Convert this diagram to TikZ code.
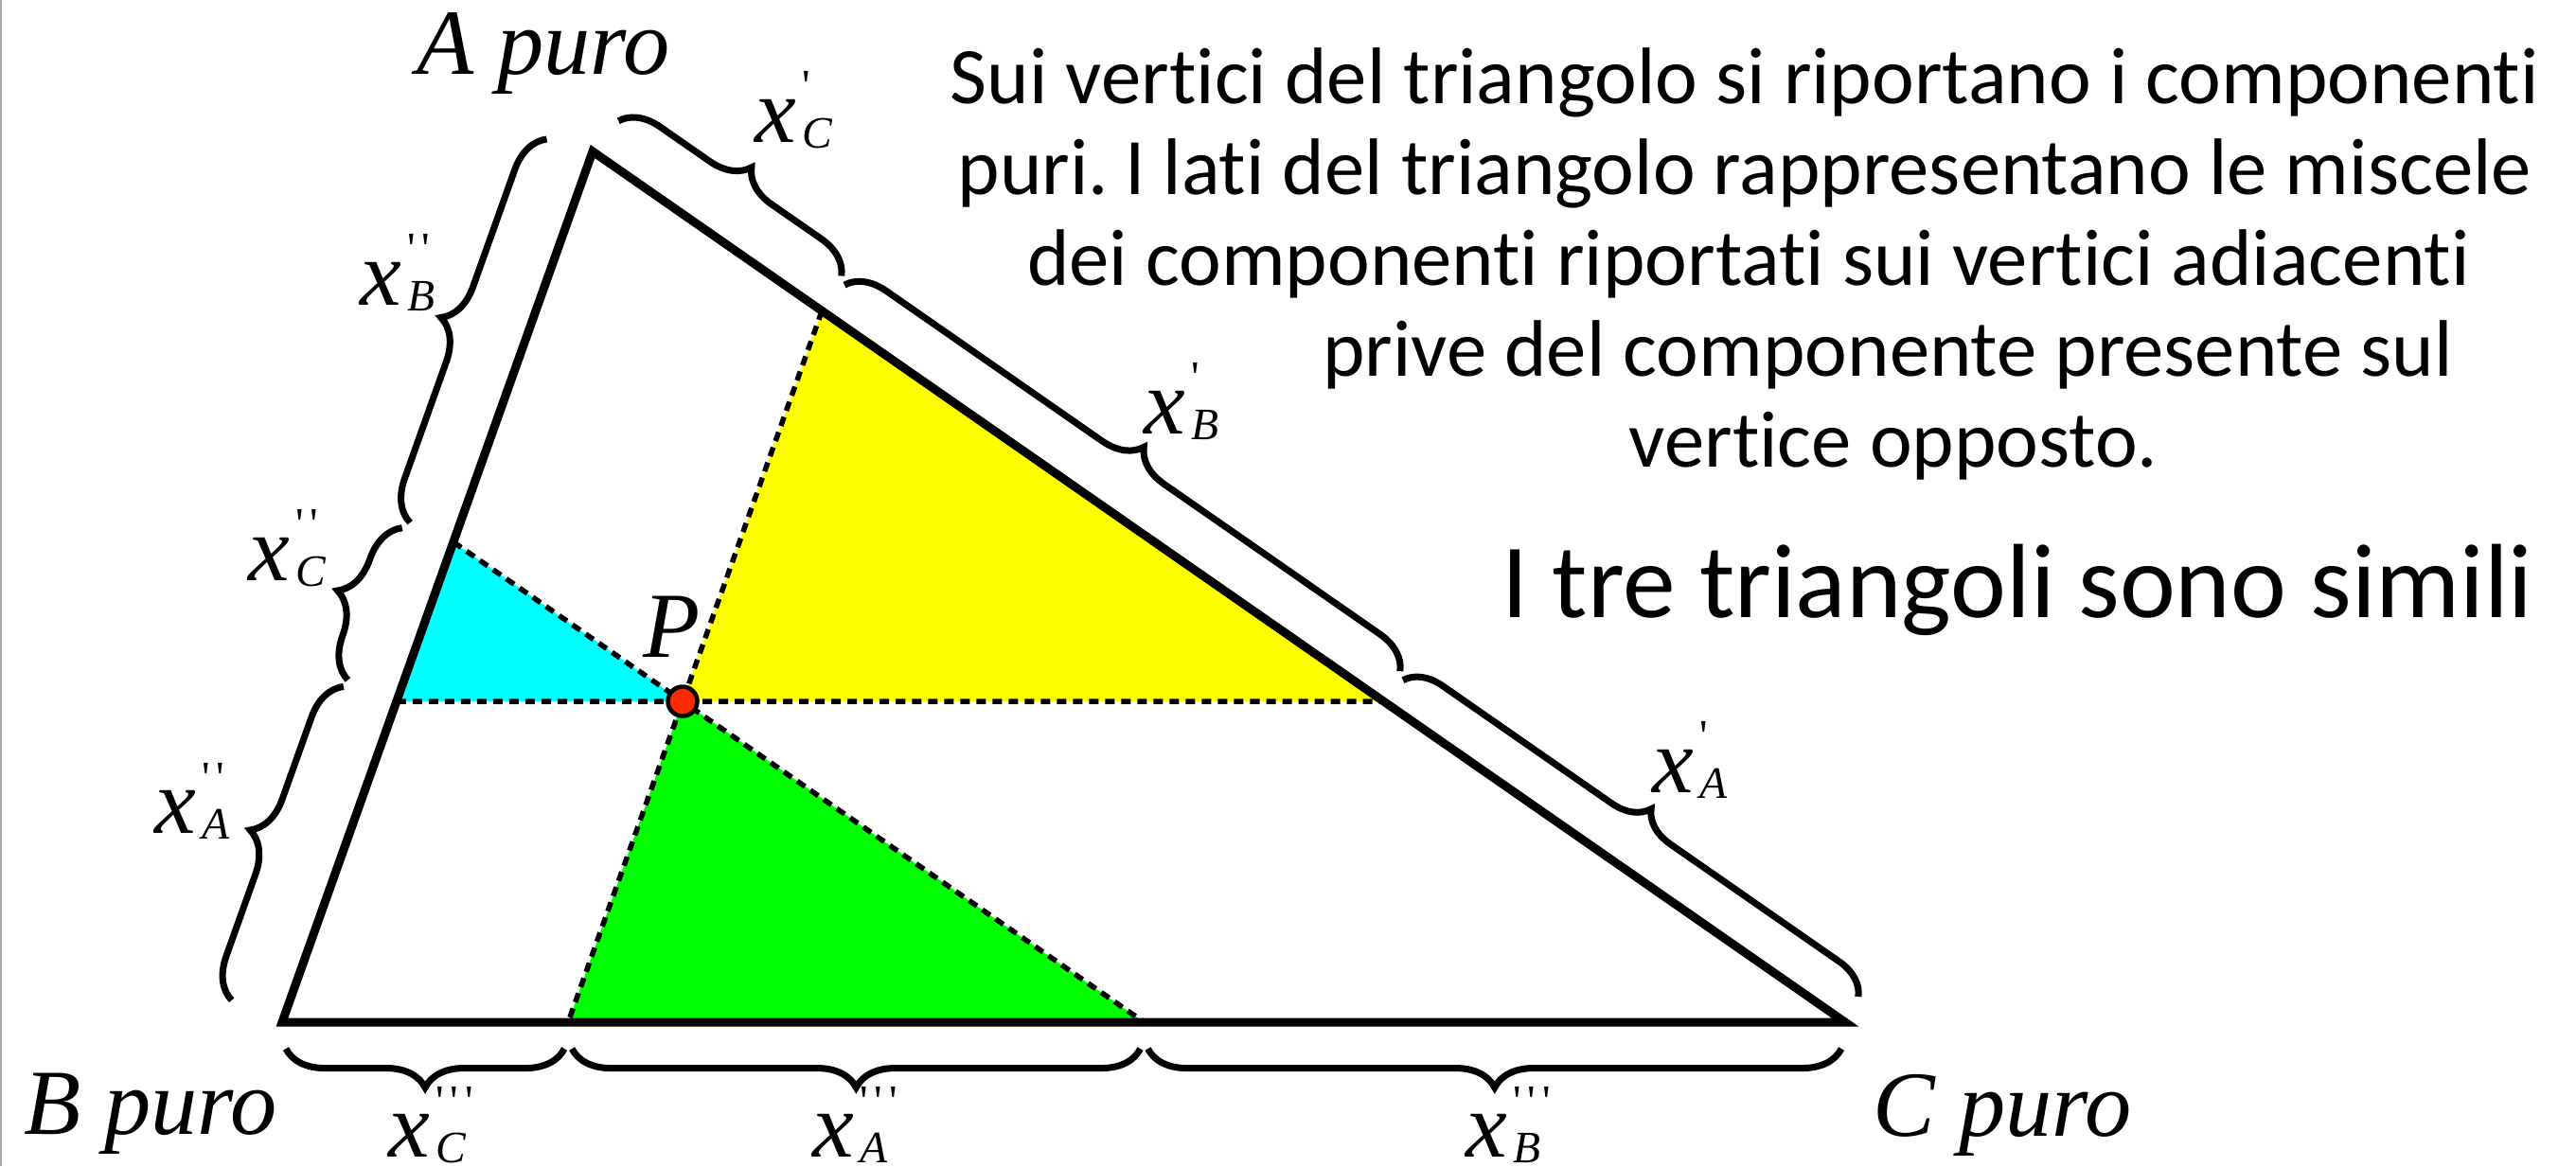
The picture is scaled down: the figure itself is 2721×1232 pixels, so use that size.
\documentclass[tikz,border=0pt]{standalone}
\usepackage{fontspec}
\setmainfont{Liberation Serif}
\newfontfamily\gill{Carlito}[Ligatures=NoCommon]
\newfontfamily\tickfont{Liberation Serif}[Ligatures=TeXOff]
\usetikzlibrary{decorations.pathreplacing,calc}
\definecolor{pred}{RGB}{255,42,0}
\definecolor{fillyellow}{RGB}{255,255,0}
\definecolor{fillcyan}{RGB}{0,255,255}
\definecolor{fillgreen}{RGB}{0,255,0}
\newcommand\xlab[2]{{\fontsize{28}{28}\selectfont\itshape x}\hspace{0.06cm}\rlap{\raisebox{0.43cm}{\fontsize{13.5}{13.5}\selectfont\tickfont #1}}\raisebox{-0.06cm}{\fontsize{13.5}{13.5}\selectfont\itshape #2}}
\newcommand\tka{'}
\newcommand\tkb{'\hspace{0.07cm}'}
\newcommand\tkc{'\hspace{0.07cm}'\hspace{0.07cm}'}
\begin{document}
\begin{tikzpicture}[x=0.01cm,y=-0.01cm,
  side/.style={line width=0.09cm, line join=miter},
  guide/.style={line width=0.055cm, dash pattern=on 0.1cm off 0.07cm},
  brc/.style 2 args={decorate, line width=0.07cm, decoration={brace, amplitude=#1, raise=#2}},
  lab/.style={anchor=base west, inner sep=0pt},
  serif/.style={anchor=base west, inner sep=0pt, font=\fontsize{28}{28}\selectfont\itshape},
  para/.style={anchor=base, inner sep=0pt, font=\gill\fontsize{24.1}{24.1}\selectfont}]
\useasboundingbox (0,0) rectangle (2721,1232);
\draw[gray!70, line width=0.02cm] (1,0) -- (1,1232);
% vertices and point P
\coordinate (A) at (626,160);
\coordinate (B) at (298,1080);
\coordinate (C) at (1949,1080);
\coordinate (P) at (721,741);
\coordinate (Pu) at ($(P)+(A)-(B)$);
\coordinate (Ph) at ($(P)+(100,0)$);
\coordinate (Pc) at ($(P)+(C)-(A)$);
\coordinate (Y1) at (intersection of P--Pu and A--C);
\coordinate (G1) at (intersection of P--Pu and B--C);
\coordinate (H1) at (intersection of P--Ph and A--B);
\coordinate (H2) at (intersection of P--Ph and A--C);
\coordinate (Cy) at (intersection of P--Pc and A--B);
\coordinate (G2) at (intersection of P--Pc and B--C);
% coloured triangles
\fill[fillyellow] (P) -- (Y1) -- (H2) -- cycle;
\fill[fillcyan] (P) -- (Cy) -- (H1) -- cycle;
\fill[fillgreen] (P) -- (G1) -- (G2) -- cycle;
% dashed guides
\draw[guide] (H1) -- (H2);
\draw[guide] (Y1) -- (G1);
\draw[guide] (Cy) -- (G2);
% main triangle
\draw[side] (A) -- (B) -- (C) -- cycle;
% point P
\node[circle, fill=pred, draw, line width=0.045cm, minimum size=0.31cm, inner sep=0pt] (Pdot) at (P) {};
% braces along AC
\draw[brc={0.40cm}{0.42cm}] ($(A)!0.04cm!(Y1)$) -- ($(Y1)!0.04cm!(A)$);
\draw[brc={0.40cm}{0.36cm}] ($(Y1)!0.04cm!(H2)$) -- ($(H2)!0.04cm!(Y1)$);
\draw[brc={0.38cm}{0.30cm}] ($(H2)!0.04cm!(C)$) -- ($(C)!0.04cm!(H2)$);
% braces along BC
\draw[brc={0.41cm}{0.28cm}] ($(C)!0.04cm!(G2)$) -- ($(G2)!0.04cm!(C)$);
\draw[brc={0.41cm}{0.28cm}] ($(G2)!0.04cm!(G1)$) -- ($(G1)!0.04cm!(G2)$);
\draw[brc={0.41cm}{0.28cm}] ($(G1)!0.04cm!(B)$) -- ($(B)!0.04cm!(G1)$);
% braces along AB
\draw[brc={0.42cm}{0.58cm}] ($(B)!0.04cm!(H1)$) -- ($(H1)!0.04cm!(B)$);
\draw[brc={0.42cm}{0.56cm}] ($(H1)!0.04cm!(Cy)$) -- ($(Cy)!0.04cm!(H1)$);
\draw[brc={0.42cm}{0.50cm}] ($(Cy)!0.04cm!(A)$) -- ($(A)!0.04cm!(Cy)$);
% segment labels
\node[lab] (lCp) at (797,150) {\xlab{\tka}{C}};
\node[lab] (lBp) at (1208,458) {\xlab{\tka}{B}};
\node[lab] (lAp) at (1745,837) {\xlab{\tka}{A}};
\node[lab] (lBpp) at (380,322) {\xlab{\tkb}{B}};
\node[lab] (lCpp) at (262,613) {\xlab{\tkb}{C}};
\node[lab] (lApp) at (163,880) {\xlab{\tkb}{A}};
\node[lab] (lCppp) at (410,1222) {\xlab{\tkc}{C}};
\node[lab] (lAppp) at (858,1222) {\xlab{\tkc}{A}};
\node[lab] (lBppp) at (1548,1222) {\xlab{\tkc}{B}};
% vertex labels
\node[serif] (tA) at (440,78) {A puro};
\node[serif] (tB) at (25,1198) {B puro};
\node[serif] (tC) at (1978,1200) {C puro};
\node[serif] (tP) at (679,694) {P};
% explanatory text
\node[para] (t1) at (1843,109) {Sui vertici del triangolo si riportano i componenti};
\node[para] (t2) at (1843,205) {puri.\hspace{-0.1em} I lati del triangolo rappresentano le miscele};
\node[para] (t3) at (1847,301) {dei componenti riportati sui vertici adiacenti};
\node[para] (t4) at (1994,397) {prive del componente presente sul};
\node[para] (t5) at (2000,493) {vertice opposto.};
\node[anchor=base, inner sep=0pt, font=\gill\fontsize{31.7}{31.7}\selectfont] (t6) at (2131,652) {I tre triangoli sono simili};
\end{tikzpicture}
\end{document}
